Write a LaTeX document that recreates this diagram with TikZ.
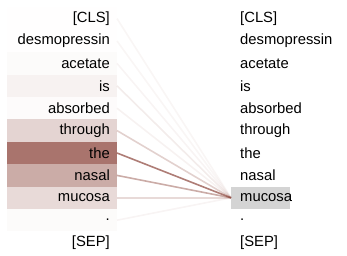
\documentclass[tikz,border=0pt]{standalone}
\usepackage{fontspec}
\setmainfont{Liberation Sans}
\definecolor{attnbrown}{RGB}{140,70,60}
\definecolor{selgray}{RGB}{212,212,212}

\begin{document}
\begin{tikzpicture}[x=1pt, y=-1pt,
  font=\fontsize{14.8}{17}\selectfont,
  srctok/.style={anchor=east, inner xsep=7pt, inner ysep=0pt,
                 text width=96pt, align=right, minimum height=22.4pt},
  tgttok/.style={anchor=west, inner xsep=9pt, inner ysep=0pt,
                 text width=41pt, align=left, minimum height=22.4pt},
  link/.style={line width=1.6pt, attnbrown}
]
  \useasboundingbox (0,0) rectangle (347,256);

  % source tokens (left) with attention weights
  \foreach \tok/\wt [count=\i from 0] in {{[CLS]}/0.005, desmopressin/0.005,
      acetate/0.025, is/0.07, absorbed/0.02, through/0.23, the/0.75,
      nasal/0.45, mucosa/0.2, ./0.025, {[SEP]}/0}
  {
    \node[srctok, fill=attnbrown, fill opacity=\wt, text opacity=1]
      (src\i) at (117, 18.6+22.4*\i) {\tok};
    \node[tgttok] (tgt\i) at (231, 18.6+22.4*\i) {\tok};
  }

  % selected target token
  \node[tgttok, fill=selgray] (tgt8) at (231, 18.6+22.4*8) {mucosa};

  % attention links
  \foreach \wt [count=\i from 0] in {0.05, 0.05, 0.06, 0.1, 0.07, 0.25,
      0.7, 0.45, 0.2, 0.06}
    \draw[link, draw opacity=\wt] (src\i.east) -- (tgt8.west);
\end{tikzpicture}
\end{document}
